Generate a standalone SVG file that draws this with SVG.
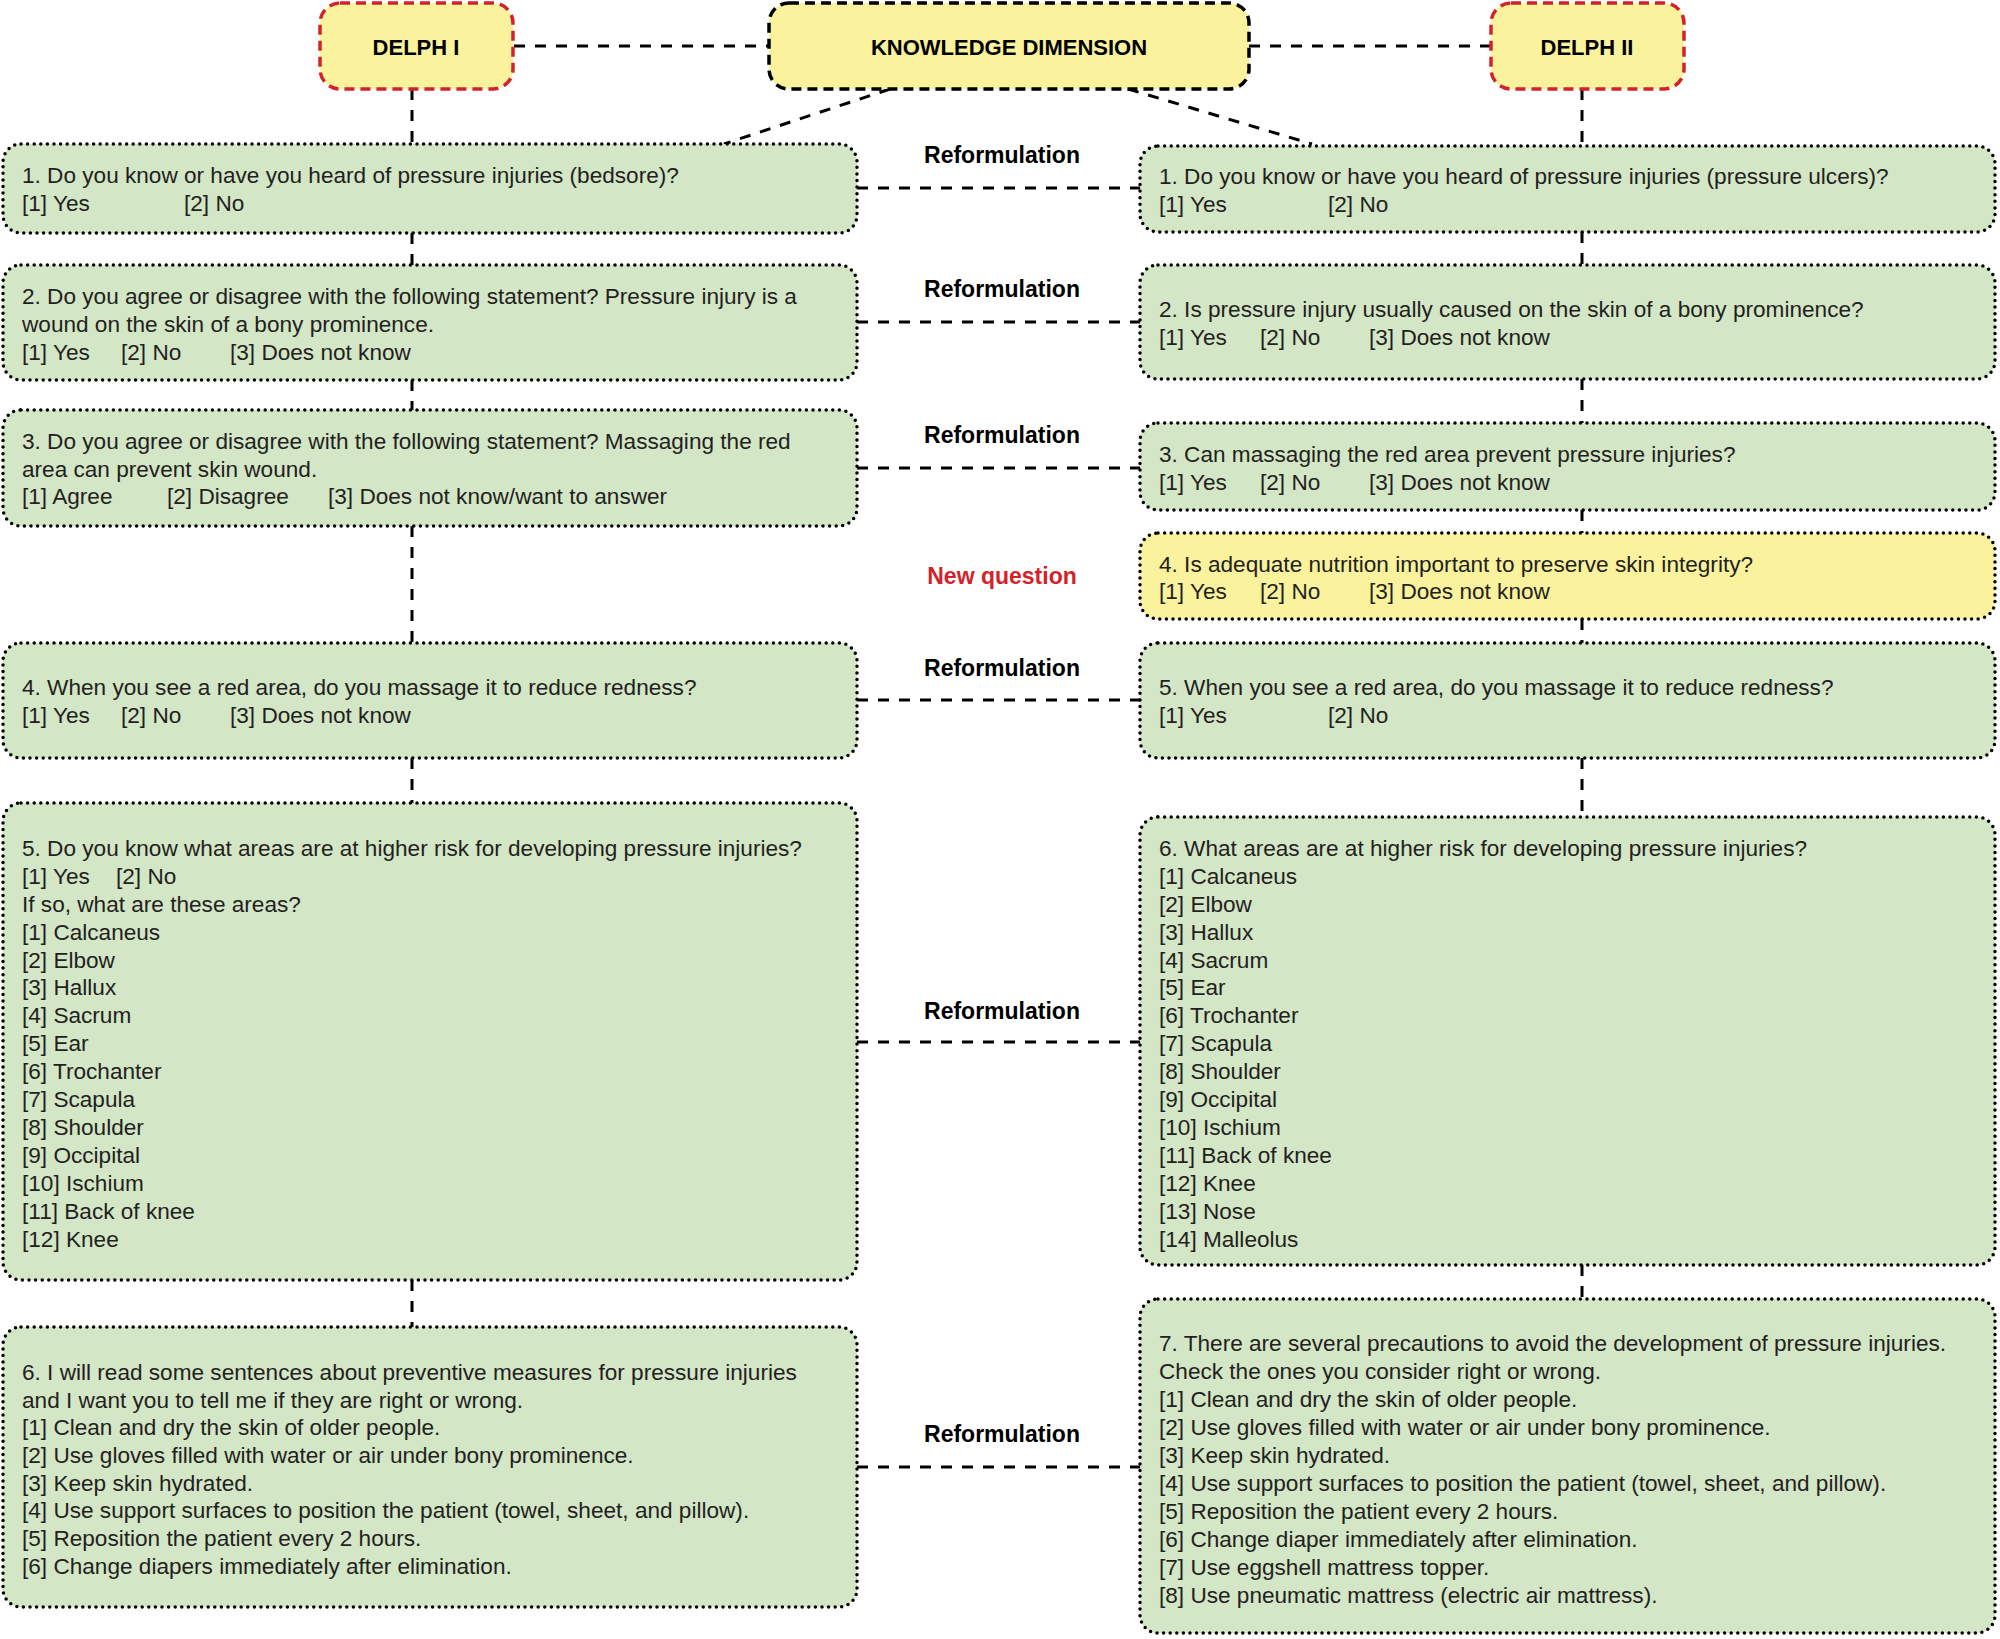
<svg xmlns="http://www.w3.org/2000/svg" width="2000" height="1639" viewBox="0 0 2000 1639">
<style>
.q{fill:#d3e6c6;stroke:#000;stroke-width:3.5;stroke-dasharray:0 6.6;stroke-linecap:round}
.qy{fill:#faf29c;stroke:#000;stroke-width:3.5;stroke-dasharray:0 6.6;stroke-linecap:round}
.hr{fill:#faf29c;stroke:#d2232a;stroke-width:3.5;stroke-dasharray:10 6}
.hk{fill:#faf29c;stroke:#000;stroke-width:3.5;stroke-dasharray:10 6}
.c{fill:none;stroke:#000;stroke-width:3;stroke-dasharray:11 10}
.t{font-family:"Liberation Sans",Arial,sans-serif;font-size:22.6px;fill:#231f20}
.h{font-family:"Liberation Sans",Arial,sans-serif;font-weight:bold;font-size:22px;fill:#000;text-anchor:middle}
.l{font-family:"Liberation Sans",Arial,sans-serif;font-weight:bold;font-size:23px;fill:#000;text-anchor:middle}
.n{fill:#d2232a}
</style>
<rect width="2000" height="1639" fill="#fff"/>
<g id="connectors">
<path class="c" d="M514 46H769M1249 46H1491"/>
<path class="c" d="M890 89L724 144M1128 89L1312 144"/>
<path class="c" d="M412 89V144M412 233V265M412 380V410M412 526V643M412 758V803M412 1280V1327"/>
<path class="c" d="M1582 89V146M1582 232V265M1582 379V423M1582 510V533M1582 619V643M1582 758V817M1582 1265V1299"/>
<path class="c" d="M857 188H1140M857 322H1140M857 468H1140M857 700H1140M857 1042H1140M857 1467H1140"/>
</g>
<g id="labels">
<text class="l" x="1002" y="163">Reformulation</text>
<text class="l" x="1002" y="297">Reformulation</text>
<text class="l" x="1002" y="443">Reformulation</text>
<text class="l n" x="1002" y="584">New question</text>
<text class="l" x="1002" y="676">Reformulation</text>
<text class="l" x="1002" y="1019">Reformulation</text>
<text class="l" x="1002" y="1442">Reformulation</text>
</g>
<g id="delph1">
<rect class="hr" x="320" y="3" width="193" height="86" rx="20"/>
<text class="h" x="416" y="55">DELPH I</text>
</g>
<g id="knowledge">
<rect class="hk" x="769" y="3" width="480" height="86" rx="20"/>
<text class="h" x="1009" y="55">KNOWLEDGE DIMENSION</text>
</g>
<g id="delph2">
<rect class="hr" x="1491" y="3" width="193" height="86" rx="20"/>
<text class="h" x="1587" y="55">DELPH II</text>
</g>
<g id="q1-left">
<rect class="q" x="3" y="144" width="854" height="89" rx="18"/>
<text class="t" x="22" y="183">1. Do you know or have you heard of pressure injuries (bedsore)?</text>
<text class="t" x="22" y="211">[1] Yes</text><text class="t" x="184" y="211">[2] No</text>
</g>
<g id="q2-left">
<rect class="q" x="3" y="265" width="854" height="115" rx="18"/>
<text class="t" x="22" y="304">2. Do you agree or disagree with the following statement? Pressure injury is a</text>
<text class="t" x="22" y="332">wound on the skin of a bony prominence.</text>
<text class="t" x="22" y="360">[1] Yes</text><text class="t" x="121" y="360">[2] No</text><text class="t" x="230" y="360">[3] Does not know</text>
</g>
<g id="q3-left">
<rect class="q" x="3" y="410" width="854" height="116" rx="18"/>
<text class="t" x="22" y="449">3. Do you agree or disagree with the following statement? Massaging the red</text>
<text class="t" x="22" y="477">area can prevent skin wound.</text>
<text class="t" x="22" y="504">[1] Agree</text><text class="t" x="167" y="504">[2] Disagree</text><text class="t" x="328" y="504">[3] Does not know/want to answer</text>
</g>
<g id="q4-left">
<rect class="q" x="3" y="643" width="854" height="115" rx="18"/>
<text class="t" x="22" y="695">4. When you see a red area, do you massage it to reduce redness?</text>
<text class="t" x="22" y="723">[1] Yes</text><text class="t" x="121" y="723">[2] No</text><text class="t" x="230" y="723">[3] Does not know</text>
</g>
<g id="q5-left">
<rect class="q" x="3" y="803" width="854" height="477" rx="18"/>
<text class="t" x="22" y="856">5. Do you know what areas are at higher risk for developing pressure injuries?</text>
<text class="t" x="22" y="884">[1] Yes</text><text class="t" x="116" y="884">[2] No</text>
<text class="t" x="22" y="912">If so, what are these areas?</text>
<text class="t" x="22" y="940">[1] Calcaneus</text>
<text class="t" x="22" y="968">[2] Elbow</text>
<text class="t" x="22" y="995">[3] Hallux</text>
<text class="t" x="22" y="1023">[4] Sacrum</text>
<text class="t" x="22" y="1051">[5] Ear</text>
<text class="t" x="22" y="1079">[6] Trochanter</text>
<text class="t" x="22" y="1107">[7] Scapula</text>
<text class="t" x="22" y="1135">[8] Shoulder</text>
<text class="t" x="22" y="1163">[9] Occipital</text>
<text class="t" x="22" y="1191">[10] Ischium</text>
<text class="t" x="22" y="1219">[11] Back of knee</text>
<text class="t" x="22" y="1247">[12] Knee</text>
</g>
<g id="q6-left">
<rect class="q" x="3" y="1327" width="854" height="280" rx="18"/>
<text class="t" x="22" y="1380">6. I will read some sentences about preventive measures for pressure injuries</text>
<text class="t" x="22" y="1408">and I want you to tell me if they are right or wrong.</text>
<text class="t" x="22" y="1435">[1] Clean and dry the skin of older people.</text>
<text class="t" x="22" y="1463">[2] Use gloves filled with water or air under bony prominence.</text>
<text class="t" x="22" y="1491">[3] Keep skin hydrated.</text>
<text class="t" x="22" y="1518">[4] Use support surfaces to position the patient (towel, sheet, and pillow).</text>
<text class="t" x="22" y="1546">[5] Reposition the patient every 2 hours.</text>
<text class="t" x="22" y="1574">[6] Change diapers immediately after elimination.</text>
</g>
<g id="q1-right">
<rect class="q" x="1140" y="146" width="855" height="86" rx="18"/>
<text class="t" x="1159" y="184">1. Do you know or have you heard of pressure injuries (pressure ulcers)?</text>
<text class="t" x="1159" y="212">[1] Yes</text><text class="t" x="1328" y="212">[2] No</text>
</g>
<g id="q2-right">
<rect class="q" x="1140" y="265" width="855" height="114" rx="18"/>
<text class="t" x="1159" y="317">2. Is pressure injury usually caused on the skin of a bony prominence?</text>
<text class="t" x="1159" y="345">[1] Yes</text><text class="t" x="1260" y="345">[2] No</text><text class="t" x="1369" y="345">[3] Does not know</text>
</g>
<g id="q3-right">
<rect class="q" x="1140" y="423" width="855" height="87" rx="18"/>
<text class="t" x="1159" y="462">3. Can massaging the red area prevent pressure injuries?</text>
<text class="t" x="1159" y="490">[1] Yes</text><text class="t" x="1260" y="490">[2] No</text><text class="t" x="1369" y="490">[3] Does not know</text>
</g>
<g id="q4-right">
<rect class="qy" x="1140" y="533" width="855" height="86" rx="18"/>
<text class="t" x="1159" y="572">4. Is adequate nutrition important to preserve skin integrity?</text>
<text class="t" x="1159" y="599">[1] Yes</text><text class="t" x="1260" y="599">[2] No</text><text class="t" x="1369" y="599">[3] Does not know</text>
</g>
<g id="q5-right">
<rect class="q" x="1140" y="643" width="855" height="115" rx="18"/>
<text class="t" x="1159" y="695">5. When you see a red area, do you massage it to reduce redness?</text>
<text class="t" x="1159" y="723">[1] Yes</text><text class="t" x="1328" y="723">[2] No</text>
</g>
<g id="q6-right">
<rect class="q" x="1140" y="817" width="855" height="448" rx="18"/>
<text class="t" x="1159" y="856">6. What areas are at higher risk for developing pressure injuries?</text>
<text class="t" x="1159" y="884">[1] Calcaneus</text>
<text class="t" x="1159" y="912">[2] Elbow</text>
<text class="t" x="1159" y="940">[3] Hallux</text>
<text class="t" x="1159" y="968">[4] Sacrum</text>
<text class="t" x="1159" y="995">[5] Ear</text>
<text class="t" x="1159" y="1023">[6] Trochanter</text>
<text class="t" x="1159" y="1051">[7] Scapula</text>
<text class="t" x="1159" y="1079">[8] Shoulder</text>
<text class="t" x="1159" y="1107">[9] Occipital</text>
<text class="t" x="1159" y="1135">[10] Ischium</text>
<text class="t" x="1159" y="1163">[11] Back of knee</text>
<text class="t" x="1159" y="1191">[12] Knee</text>
<text class="t" x="1159" y="1219">[13] Nose</text>
<text class="t" x="1159" y="1247">[14] Malleolus</text>
</g>
<g id="q7-right">
<rect class="q" x="1140" y="1299" width="855" height="334" rx="18"/>
<text class="t" x="1159" y="1351">7. There are several precautions to avoid the development of pressure injuries.</text>
<text class="t" x="1159" y="1379">Check the ones you consider right or wrong.</text>
<text class="t" x="1159" y="1407">[1] Clean and dry the skin of older people.</text>
<text class="t" x="1159" y="1435">[2] Use gloves filled with water or air under bony prominence.</text>
<text class="t" x="1159" y="1463">[3] Keep skin hydrated.</text>
<text class="t" x="1159" y="1491">[4] Use support surfaces to position the patient (towel, sheet, and pillow).</text>
<text class="t" x="1159" y="1519">[5] Reposition the patient every 2 hours.</text>
<text class="t" x="1159" y="1547">[6] Change diaper immediately after elimination.</text>
<text class="t" x="1159" y="1575">[7] Use eggshell mattress topper.</text>
<text class="t" x="1159" y="1603">[8] Use pneumatic mattress (electric air mattress).</text>
</g>
</svg>
